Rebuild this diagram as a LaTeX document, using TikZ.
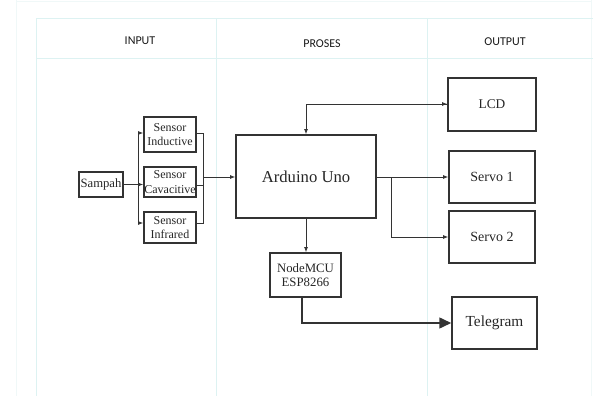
\documentclass[tikz,border=0pt]{standalone}
\usepackage{fontspec}
\setmainfont{Liberation Serif}
\newfontfamily\serf{Liberation Serif}
\newfontfamily\hdrfont{Carlito}
\usetikzlibrary{arrows.meta}
\definecolor{gridc}{HTML}{DDF2F2}
\definecolor{gridf}{HTML}{F0F8F8}
\definecolor{inkc}{HTML}{333333}
\begin{document}
\begin{tikzpicture}[x=0.75pt,y=-0.75pt,
  blk/.style={draw=inkc,line width=1pt,inner sep=0pt,align=center,text=black!85},
  conn/.style={draw=inkc,line width=0.6pt},
  arr/.style={conn,-{Latex[length=4pt,width=3pt]}},
  hdr/.style={font=\hdrfont\fontsize{9}{11}\selectfont,text=black!90},
  tline/.style={draw=gridc,line width=0.6pt},
  fline/.style={draw=gridf,line width=0.6pt}]
\useasboundingbox (0,0) rectangle (593,396);
% table grid
\draw[fline] (16,0) -- (16,396);
\draw[fline] (16,1) -- (591,1);
\draw[fline] (591,0) -- (591,396);
\draw[tline] (36,18) -- (593,18);
\draw[tline] (36,58) -- (593,58);
\draw[tline] (36,18) -- (36,396);
\draw[tline] (216,18) -- (216,396);
\draw[tline] (427,18) -- (427,396);
\node[hdr] (hin) at (140,41) {INPUT};
\node[hdr] (hpr) at (322,44) {PROSES};
\node[hdr] (hout) at (505,42) {OUTPUT};
% blocks
\node[blk,minimum width=44*0.75pt,minimum height=25*0.75pt,font=\serf\fontsize{9.5}{11}\selectfont] (samp) at (101,184.5) {Sampah};
\node[blk,minimum width=52*0.75pt,minimum height=35*0.75pt,font=\serf\fontsize{9}{11}\selectfont] (sind) at (170,134.5) {Sensor\\Inductive};
\node[blk,minimum width=52*0.75pt,minimum height=30*0.75pt,font=\serf\fontsize{9}{11}\selectfont] (scav) at (170,182) {Sensor\\Cavacitive};
\node[blk,minimum width=52*0.75pt,minimum height=31*0.75pt,font=\serf\fontsize{9}{11}\selectfont] (sinf) at (170,227.5) {Sensor\\Infrared};
\node[blk,minimum width=140*0.75pt,minimum height=83*0.75pt,font=\serf\fontsize{12.5}{14}\selectfont] (ard) at (306,176.5) {Arduino Uno};
\node[blk,minimum width=88*0.75pt,minimum height=53*0.75pt,font=\serf\fontsize{10}{12}\selectfont] (lcd) at (492,104.5) {LCD};
\node[blk,minimum width=86*0.75pt,minimum height=52*0.75pt,font=\serf\fontsize{10.5}{12}\selectfont] (sv1) at (492,177) {Servo 1};
\node[blk,minimum width=86*0.75pt,minimum height=52*0.75pt,font=\serf\fontsize{10.5}{12}\selectfont] (sv2) at (492,237) {Servo 2};
\node[blk,minimum width=71*0.75pt,minimum height=44*0.75pt,font=\serf\fontsize{9.6}{10.5}\selectfont] (mcu) at (305.5,275) {NodeMCU\\ESP8266};
\node[blk,minimum width=85*0.75pt,minimum height=52*0.75pt,font=\serf\fontsize{11.5}{13}\selectfont] (tel) at (494.5,323) {Telegram};
% input fan-out
\coordinate (fo) at (138,184.5);
\draw[conn] (samp.east) -- (fo);
\draw[arr] (fo) |- (sind.west |- 0,133);
\draw[arr] (fo) -- (scav.west |- fo);
\draw[arr] (fo) |- (sinf.west |- 0,223);
% fan-in
\coordinate (fi) at (203,177);
\draw[conn] (sind.east |- 0,133) -| (fi);
\draw[conn] (scav.east |- 0,185) -| (fi);
\draw[conn] (sinf.east |- 0,223) -| (fi);
\draw[arr] (fi) -- (ard.west |- fi);
% outputs
\coordinate (lc) at (306,104);
\draw[arr] (lcd.west |- lc) -- (lc) -- (ard.north);
\draw[arr] (lc) -- (lcd.west |- lc);
\draw[arr] (ard.east |- 0,177) -- (sv1.west |- 0,177);
\coordinate (br) at (391,177);
\draw[arr] (br) |- (sv2.west |- 0,237);
\draw[arr] (ard.south) -- (mcu.north -| ard.south);
\draw[draw=inkc,line width=1.7pt,-{Triangle[length=9pt,width=8pt]}] (mcu.south -| 302,0) |- (tel.west |- 0,323);
\end{tikzpicture}
\end{document}
